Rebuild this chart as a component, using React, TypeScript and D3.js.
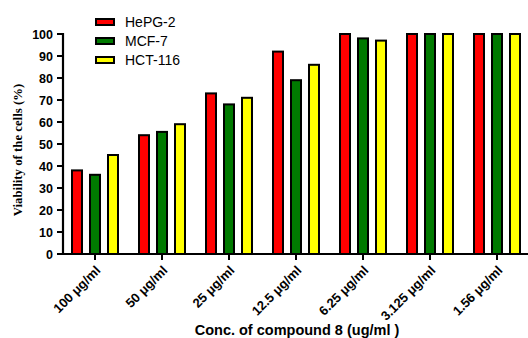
import React from "react";
import * as d3 from "d3";

const categories = ["100 μg/ml", "50 μg/ml", "25 μg/ml", "12.5 μg/ml", "6.25 μg/ml", "3.125 μg/ml", "1.56 μg/ml"];
const seriesNames = ["HePG-2", "MCF-7", "HCT-116"];
const seriesColors = ["#ff0000", "#007a00", "#ffff00"];
const hepg2 = [38, 54, 73, 92, 100, 100, 100];
const mcf7 = [36, 55.5, 68, 79, 98, 100, 100];
const hct116 = [45, 59, 71, 86, 97, 100, 100];
const yTicks = [0, 10, 20, 30, 40, 50, 60, 70, 80, 90, 100];

const seriesValues = [hepg2, mcf7, hct116];

export default function App() {
  const W = 528, H = 338;
  const x0 = 63, y0 = 254;
  const x = d3.scaleBand<string>().domain(categories).range([61.5, 530.5]).padding(0);
  const y = d3.scaleLinear().domain([0, 100]).range([y0, 34]);
  const bw = 10;
  const sans = "Liberation Sans, Arial, sans-serif";
  return (
    <svg width={W} height={H} style={{ position: "absolute", left: 0, top: 0 }}>
      <rect width={W} height={H} fill="#fff" />
      {seriesValues.map((vals, si) =>
        vals.map((v, ci) => {
          const cx = (x(categories[ci]) as number) + x.bandwidth() / 2 + (si - 1) * 18;
          return (
            <rect key={`${si}-${ci}`} x={cx - bw / 2} y={y(v)} width={bw} height={y0 - y(v)}
              fill={seriesColors[si]} stroke="#000" strokeWidth={2} />
          );
        })
      )}
      {/* y axis */}
      <line x1={x0} x2={x0} y1={y(100) - 1} y2={y0 + 1} stroke="#000" strokeWidth={2.2} />
      {yTicks.map(t => (
        <g key={t}>
          <line x1={x0 - 6} x2={x0} y1={y(t)} y2={y(t)} stroke="#000" strokeWidth={2} />
          <text x={x0 - 10} y={y(t)} dy="0.36em" textAnchor="end" fontFamily={sans}
            fontWeight="bold" fontSize={12.5} fill="#000">{t}</text>
        </g>
      ))}
      {/* x axis */}
      <line x1={x0 - 6} x2={W} y1={y0} y2={y0} stroke="#000" strokeWidth={2.2} />
      {categories.map(c => {
        const cx = (x(c) as number) + x.bandwidth() / 2;
        return (
          <g key={c}>
            <line x1={cx} x2={cx} y1={y0} y2={y0 + 6} stroke="#000" strokeWidth={2} />
            <text transform={`translate(${cx + 3},${y0 + 14}) rotate(-45)`} textAnchor="end"
              fontFamily={sans} fontWeight="bold" fontSize={13} fill="#000"
              dy="0.35em">{c}</text>
          </g>
        );
      })}
      <text x={297} y={335} textAnchor="middle" fontFamily={sans}
        fontWeight="bold" fontSize={14.5} fill="#000">Conc. of compound 8 (ug/ml )</text>
      <text transform={`translate(22,150) rotate(-90)`} textAnchor="middle"
        fontFamily="Liberation Serif, Times New Roman, serif" fontWeight="bold" fontSize={12.8} fill="#000">
        Viability of the cells (%)</text>
      {/* legend */}
      {seriesNames.map((n, i) => (
        <g key={n}>
          <rect x={96} y={19 + i * 19} width={18} height={6} fill={seriesColors[i]} stroke="#000" strokeWidth={2} />
          <text x={125} y={22 + i * 19} dy="0.36em" fontFamily={sans}
            fontSize={14} fill="#000">{n}</text>
        </g>
      ))}
    </svg>
  );
}
